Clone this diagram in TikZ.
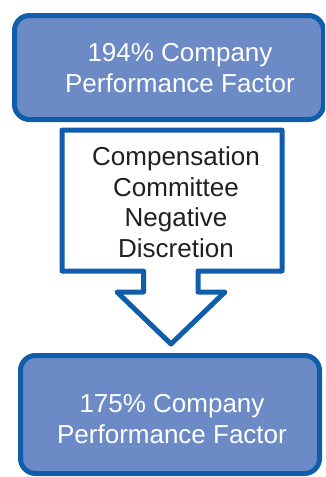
\documentclass[tikz,border=0pt]{standalone}
\usepackage{fontspec}
\setmainfont{Liberation Sans}
\definecolor{boxfill}{HTML}{6B8AC6}
\definecolor{boxline}{HTML}{0F5DAB}
\definecolor{darktext}{HTML}{231F20}
\tikzset{
	factorbox/.style={draw=boxline, fill=boxfill, line width=5pt, rounded corners=15pt},
	factortext/.style={text=white, align=center, font=\fontsize{26}{31}\selectfont},
	calloutline/.style={draw=boxline, fill=white, line width=5pt, line join=round},
	callouttext/.style={text=darktext, align=center, font=\fontsize{26}{30.5}\selectfont}
}
\begin{document}
\begin{tikzpicture}[x=1pt,y=-1pt]
	\useasboundingbox (0,0) rectangle (325,477);
	\clip (0,0) rectangle (325,477);
	% top factor
	\draw[factorbox] (14.5,15.5) rectangle (323.5,119.5);
	\node[factortext] (cpfTop) at (180,68) {194\% Company\\Performance Factor};
	% callout arrow
	\draw[calloutline] (62,130) -- (282,130) -- (282,271) -- (198,271) -- (198,292)
		-- (225,292) -- (171,344) -- (117,292) -- (143.5,292) -- (143.5,271)
		-- (62,271) -- cycle;
	\node[callouttext] (discretion) at (176,202) {Compensation\\Committee\\Negative\\Discretion};
	% bottom factor
	\draw[factorbox] (20.5,355.5) rectangle (319.5,473.5);
	\node[factortext] (cpfBottom) at (172,419) {175\% Company\\Performance Factor};
\end{tikzpicture}
\end{document}
